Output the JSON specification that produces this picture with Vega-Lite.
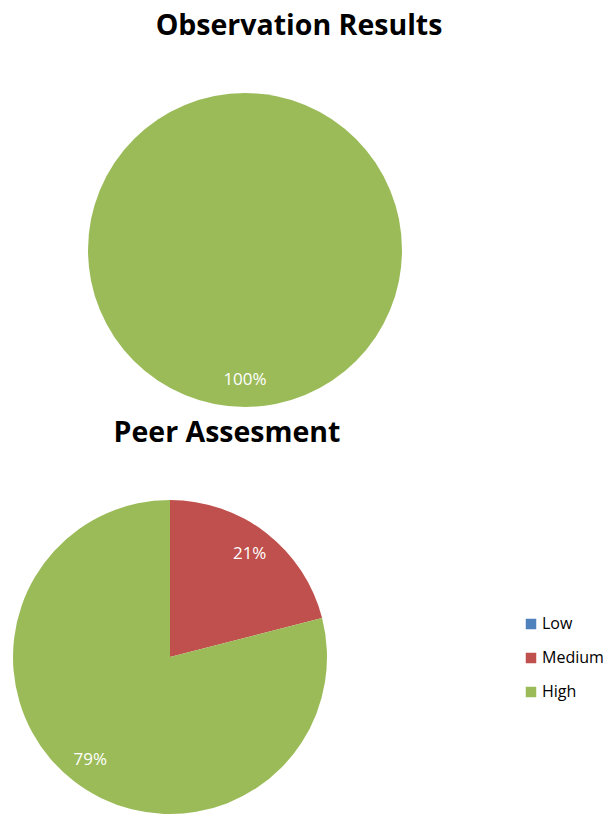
{
  "$schema": "https://vega.github.io/schema/vega-lite/v6.json",
  "padding": {"top": 12, "left": 0, "right": 0, "bottom": 0},
  "background": "white",
  "datasets": {
    "obs": [
      {"level": "Low", "ord": 1, "value": 0},
      {"level": "Medium", "ord": 2, "value": 0},
      {"level": "High", "ord": 3, "value": 1.0}
    ],
    "peer": [
      {"level": "Low", "ord": 1, "value": 0},
      {"level": "Medium", "ord": 2, "value": 0.21},
      {"level": "High", "ord": 3, "value": 0.79}
    ]
  },
  "config": {
    "view": {"stroke": null},
    "font": "Open Sans",
    "title": {"font": "Open Sans", "fontSize": 28.5, "fontWeight": "bold", "color": "black", "anchor": "middle"}
  },
  "spacing": 12,
  "resolve": {"scale": {"color": "shared"}},
  "vconcat": [
    {
      "title": {"text": "Observation Results", "offset": 52.5, "dx": 54},
      "width": 490,
      "height": 314,
      "data": {"name": "obs"},
      "layer": [
        {
          "mark": {"type": "arc", "outerRadius": 157},
          "encoding": {
            "theta": {"field": "value", "type": "quantitative", "stack": true},
            "order": {"field": "ord", "type": "quantitative"},
            "color": {
              "field": "level", "type": "nominal",
              "scale": {"domain": ["Low", "Medium", "High"], "range": ["#4F81BD", "#C0504D", "#9BBB59"]},
              "legend": {"title": null, "orient": "none", "legendX": 523, "legendY": 523, "symbolType": "square", "symbolSize": 110, "symbolStrokeWidth": 0, "labelFontSize": 16, "labelFont": "Open Sans", "labelColor": "black", "rowPadding": 18, "labelOffset": 3}
            }
          }
        },
        {
          "transform": [{"filter": "datum.value > 0"}],
          "mark": {"type": "text", "radius": 130, "fill": "white", "fontSize": 17, "font": "Open Sans"},
          "encoding": {
            "theta": {"field": "value", "type": "quantitative", "stack": true},
            "order": {"field": "ord", "type": "quantitative"},
            "detail": {"field": "level", "type": "nominal"},
            "text": {"field": "value", "type": "quantitative", "format": ".0%"}
          }
        }
      ]
    },
    {
      "title": {"text": "Peer Assesment", "offset": 52.5, "dx": 57},
      "width": 340,
      "height": 314,
      "data": {"name": "peer"},
      "layer": [
        {
          "mark": {"type": "arc", "outerRadius": 157},
          "encoding": {
            "theta": {"field": "value", "type": "quantitative", "stack": true},
            "order": {"field": "ord", "type": "quantitative"},
            "color": {"field": "level", "type": "nominal"}
          }
        },
        {
          "transform": [{"filter": "datum.value > 0"}],
          "mark": {"type": "text", "radius": 130, "fill": "white", "fontSize": 17, "font": "Open Sans"},
          "encoding": {
            "theta": {"field": "value", "type": "quantitative", "stack": true},
            "order": {"field": "ord", "type": "quantitative"},
            "detail": {"field": "level", "type": "nominal"},
            "text": {"field": "value", "type": "quantitative", "format": ".0%"}
          }
        }
      ]
    }
  ]
}
